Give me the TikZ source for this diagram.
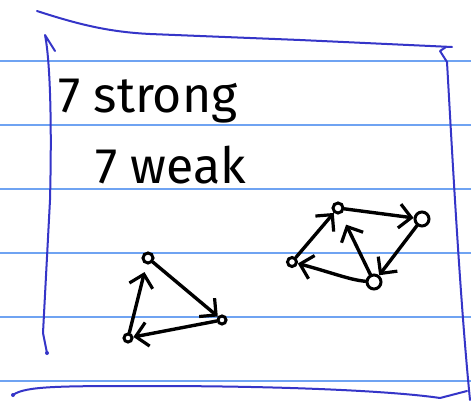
\documentclass[tikz,border=0pt]{standalone}
\usepackage{fontspec}
\setmainfont{Fira Sans}
\usetikzlibrary{arrows.meta}
\definecolor{rule}{HTML}{6FA3F2}
\definecolor{pen}{HTML}{3535C8}
\begin{document}
\begin{tikzpicture}[x=1pt,y=-1pt,
  ruleline/.style={rule,line width=1.5pt},
  frame/.style={pen,line width=2pt,line cap=round,line join=round},
  vtx/.style={circle,draw=black,line width=3pt,inner sep=0pt,minimum size=#1},
  vtx/.default=10pt,
  edge/.style={black,line width=3.4pt,line cap=round,
    -{Straight Barb[length=12pt,width=24pt,line width=3.2pt]}},
  hand/.style={font=\fontsize{50}{54}\selectfont,inner sep=0pt,anchor=base west}]
\useasboundingbox (0,0) rectangle (471,404);
\fill[white] (0,0) rectangle (471,404);
% ruled lines
\foreach \y in {61,125,189,253,317,381}
  \draw[ruleline] (0,\y) -- (471,\y);
% blue frame
\draw[frame] (37,11) .. controls (80,25) and (110,32) .. (150,34) -- (300,40) -- (452,47);
\draw[frame] (55,51) -- (45,35) .. controls (50,60) and (52,120) .. (50,200) -- (43,333) -- (47,353);
\fill[pen] (47,353) circle (2);
\draw[frame] (446,47) -- (440,51) -- (447,62) .. controls (452,150) and (460,300) .. (470,400);
\draw[frame] (13,395) .. controls (25,386) and (60,386) .. (150,386) .. controls (300,386) and (400,392) .. (440,398) -- (467,391);
\fill[pen] (13,395) circle (2);
% text
\node[hand] (s) at (58,112) {7 strong};
\node[hand] (w) at (95,183) {7 weak};
% graph 1
\node[vtx] (t1) at (148,258) {};
\node[vtx=8pt] (r1) at (222,320) {};
\node[vtx=8pt] (l1) at (128,338) {};
\draw[edge] (t1) -- (r1);
\draw[edge] (r1) -- (l1);
\draw[edge,shorten >=8pt] (l1) -- (t1);
% graph 2
\node[vtx] (A) at (338,208) {};
\node[vtx=14pt] (B) at (422,219) {};
\node[vtx=9pt] (C) at (292,262) {};
\node[vtx=14pt] (D) at (374,282) {};
\draw[edge] (A) -- (B);
\draw[edge] (B) -- (D);
\draw[edge,shorten >=12pt] (D) -- (A);
\draw[edge] (C) -- (A);
\draw[edge] (D) .. controls (350,280) and (330,272) .. (C);
\end{tikzpicture}
\end{document}
